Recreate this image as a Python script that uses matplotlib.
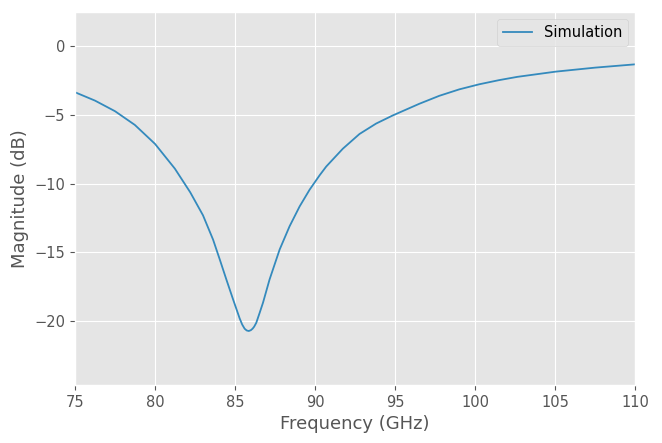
import matplotlib.pyplot as plt
import numpy as np

# Readings of the simulated response (frequency in GHz, magnitude in dB)
freq_ghz = [75.0, 76.25, 77.5, 78.74, 80.0, 81.24, 82.2, 83.0, 83.63,
            84.05, 84.46, 84.88, 85.29, 85.45, 85.6, 85.73, 85.86, 85.99,
            86.1, 86.2, 86.33, 86.54, 86.75, 87.16, 87.79, 88.41, 89.04,
            89.66, 90.28, 90.7, 91.74, 92.78, 93.82, 94.86, 95.27, 96.52,
            97.77, 99.02, 100.27, 101.5, 102.65, 105.05, 107.5, 110.0]
magnitude_db = [-3.34, -3.95, -4.72, -5.72, -7.1, -8.9, -10.62, -12.3,
                -14.07, -15.52, -16.97, -18.42, -19.8, -20.25, -20.55,
                -20.68, -20.72, -20.66, -20.55, -20.4, -20.12, -19.4,
                -18.66, -16.97, -14.79, -13.1, -11.65, -10.44, -9.4, -8.75,
                -7.45, -6.38, -5.62, -5.03, -4.82, -4.18, -3.6, -3.13, -2.76,
                -2.46, -2.22, -1.84, -1.55, -1.31]

plt.style.use("ggplot")

fig = plt.figure(figsize=(6.62, 4.43), dpi=100)
ax = fig.add_axes([75 / 662, 1 - 385 / 443, 560 / 662, 373 / 443])

ax.plot(freq_ghz, magnitude_db, color="#348ABD", linewidth=1.3, label="Simulation")

ax.set_xlim(75, 110)
ax.set_ylim(-24.65, 2.5)
ax.set_xticks(np.arange(75, 111, 5))
ax.set_yticks([0, -5, -10, -15, -20])
ax.tick_params(labelsize=10.5)

ax.set_xlabel("Frequency (GHz)", fontsize=13)
ax.set_ylabel("Magnitude (dB)", fontsize=13)
ax.legend(loc="upper right", fontsize=10.5)

fig.savefig("out.png", dpi=100)
